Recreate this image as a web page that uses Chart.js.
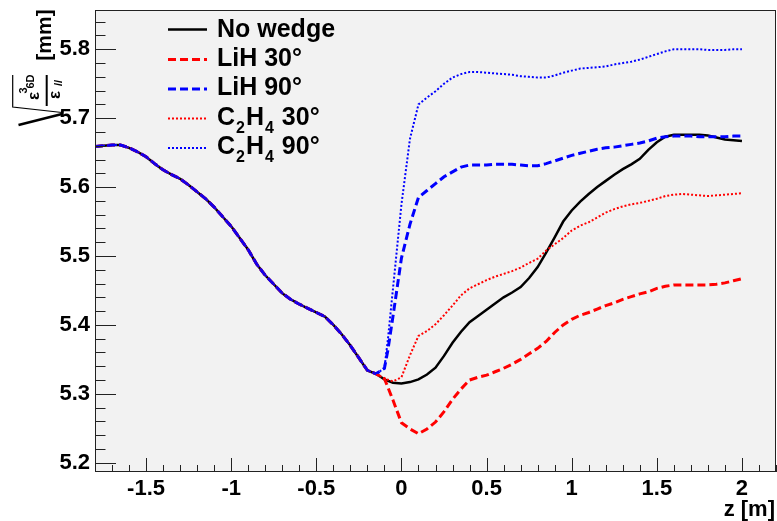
<!DOCTYPE html>
<html><head><meta charset="utf-8">
<script src="https://cdn.jsdelivr.net/npm/chart.js@4/dist/chart.umd.min.js"></script>
<style>html,body{margin:0;padding:0;background:#fff;overflow:hidden;}</style>
</head><body>
<canvas id="c" width="777" height="521"></canvas>
<script>
// ---------- data ----------
const xTicks = [-1.5, -1, -0.5, 0, 0.5, 1, 1.5, 2];
const yTicks = [5.2, 5.3, 5.4, 5.5, 5.6, 5.7, 5.8];
const seriesLabels = ['No wedge', 'LiH 30°', 'LiH 90°', 'C_{2}H_{4} 30°', 'C_{2}H_{4} 90°'];
const xTitle = 'z [m]';

// shared part upstream of the absorber (all five cases overlap)
const commonZ = [-1.8,-1.75,-1.7,-1.65,-1.6,-1.55,-1.5,-1.45,-1.4,-1.35,-1.3,-1.25,-1.2,-1.15,-1.1,-1.05,-1.0,-0.95,-0.9,-0.85,-0.8,-0.75,-0.7,-0.65,-0.6,-0.55,-0.5,-0.45,-0.4,-0.35,-0.3,-0.25,-0.2,-0.15];
const commonV = [5.659,5.660,5.661,5.661,5.657,5.651,5.644,5.634,5.625,5.618,5.612,5.603,5.593,5.583,5.571,5.557,5.543,5.526,5.509,5.488,5.472,5.459,5.446,5.437,5.430,5.424,5.418,5.412,5.400,5.386,5.370,5.352,5.334,5.329];

const tailZ = [-0.1,-0.05,0,0.05,0.1,0.15,0.2,0.25,0.3,0.35,0.4,0.45,0.5,0.55,0.6,0.65,0.7,0.75,0.8,0.85,0.9,0.95,1.0,1.05,1.1,1.15,1.2,1.25,1.3,1.35,1.4,1.45,1.5,1.55,1.6,1.65,1.7,1.75,1.8,1.85,1.9,1.95,2.0];
const noWedgeV = [5.321,5.316,5.315,5.317,5.321,5.328,5.338,5.355,5.374,5.390,5.404,5.413,5.422,5.431,5.440,5.447,5.455,5.468,5.484,5.505,5.527,5.550,5.566,5.579,5.590,5.600,5.609,5.618,5.626,5.633,5.641,5.654,5.665,5.673,5.676,5.676,5.676,5.676,5.675,5.672,5.669,5.668,5.667];
const lih30V = [5.322,5.291,5.258,5.249,5.242,5.249,5.259,5.274,5.292,5.307,5.320,5.324,5.327,5.332,5.337,5.343,5.350,5.358,5.366,5.376,5.389,5.400,5.408,5.414,5.418,5.423,5.428,5.432,5.437,5.441,5.445,5.448,5.453,5.456,5.458,5.458,5.458,5.458,5.458,5.459,5.461,5.464,5.467];
const c2h4_30V = [5.322,5.318,5.324,5.356,5.384,5.391,5.401,5.414,5.428,5.443,5.453,5.459,5.465,5.470,5.474,5.478,5.483,5.490,5.496,5.508,5.517,5.526,5.537,5.544,5.549,5.556,5.563,5.568,5.572,5.575,5.577,5.580,5.583,5.587,5.589,5.590,5.589,5.588,5.587,5.588,5.589,5.590,5.591];

const blueZ = [-0.1,-0.08,-0.05,0,0.05,0.1,0.15,0.2,0.25,0.3,0.35,0.4,0.45,0.5,0.55,0.6,0.65,0.7,0.75,0.8,0.85,0.9,0.95,1.0,1.05,1.1,1.15,1.2,1.25,1.3,1.35,1.4,1.45,1.5,1.55,1.6,1.65,1.7,1.75,1.8,1.85,1.9,1.95,2.0];
const lih90V = [5.337,5.363,5.412,5.497,5.546,5.585,5.595,5.605,5.615,5.622,5.629,5.632,5.632,5.632,5.633,5.633,5.633,5.632,5.631,5.631,5.634,5.638,5.642,5.646,5.649,5.652,5.655,5.657,5.658,5.660,5.662,5.664,5.667,5.671,5.673,5.674,5.674,5.674,5.673,5.673,5.673,5.673,5.674,5.674];
const c2h4_90V = [5.337,5.378,5.452,5.575,5.670,5.720,5.730,5.739,5.750,5.759,5.764,5.767,5.767,5.766,5.765,5.764,5.763,5.761,5.760,5.759,5.759,5.762,5.766,5.769,5.772,5.773,5.774,5.775,5.778,5.780,5.782,5.785,5.789,5.793,5.797,5.800,5.800,5.800,5.800,5.799,5.799,5.799,5.800,5.800];

// ---------- helpers ----------
function pts(zs, vs) { return zs.map((z, i) => ({ x: z, y: vs[i] })); }
function series(tz, tv) { return pts(commonZ.concat(tz), commonV.concat(tv)); }
const FONT = 'Liberation Sans, Arial, Helvetica, sans-serif';

function drawRich(ctx, text, x, y, size) {
  // renders text with ROOT-like _{...} subscripts, baseline at y
  const parts = text.split(/(_\{[^}]*\})/).filter(s => s.length);
  let cx = x;
  ctx.textAlign = 'left';
  ctx.textBaseline = 'alphabetic';
  for (const p of parts) {
    const m = p.match(/^_\{([^}]*)\}$/);
    if (m) {
      ctx.font = 'bold ' + Math.round(size * 0.62) + 'px ' + FONT;
      ctx.fillText(m[1], cx + 1, y + size * 0.32);
      cx += ctx.measureText(m[1]).width + 2;
    } else {
      ctx.font = 'bold ' + size + 'px ' + FONT;
      ctx.fillText(p, cx, y);
      cx += ctx.measureText(p).width;
    }
  }
}
function rotText(ctx, text, cx, cy, font) {
  ctx.save();
  ctx.translate(cx, cy);
  ctx.rotate(-Math.PI / 2);
  ctx.font = font;
  ctx.textAlign = 'center';
  ctx.textBaseline = 'middle';
  ctx.fillText(text, 0, 0);
  ctx.restore();
}
function noPad(s) { s.paddingTop = 0; s.paddingBottom = 0; s.paddingLeft = 0; s.paddingRight = 0; }

const rootStyle = {
  id: 'rootStyle',
  beforeDraw(chart) {
    const { ctx, chartArea: a } = chart;
    ctx.save();
    ctx.fillStyle = '#ffffff';
    ctx.fillRect(0, 0, chart.width, chart.height);
    ctx.fillStyle = '#f2f2f2';
    ctx.fillRect(a.left, a.top, a.right - a.left, a.bottom - a.top);
    ctx.restore();
  },
  afterDatasetsDraw(chart) {
    const { ctx, chartArea: a, scales } = chart;
    const xs = scales.x, ys = scales.y;
    ctx.save();
    // frame
    ctx.strokeStyle = '#222';
    ctx.lineWidth = 1;
    ctx.strokeRect(a.left + 0.5, a.top + 0.5, a.right - a.left - 1, a.bottom - a.top - 1);
    // y ticks (inside, ROOT style)
    ctx.beginPath();
    for (let i = -1; i <= 34; i++) {
      const v = 5.2 + 0.02 * i;
      if (v < ys.min || v > ys.max) continue;
      const py = Math.round(ys.getPixelForValue(v)) + 0.5;
      const len = (i % 5 === 0) ? 21 : 10.5;
      ctx.moveTo(a.left, py); ctx.lineTo(a.left + len, py);
    }
    // x ticks
    for (let i = 0; i <= 40; i++) {
      const v = -1.8 + 0.1 * i;
      if (v < xs.min - 1e-9 || v > xs.max + 1e-9) continue;
      const px = Math.round(xs.getPixelForValue(v)) + 0.5;
      const major = Math.abs(v * 2 - Math.round(v * 2)) < 1e-6;
      const len = major ? 14 : 7;
      ctx.moveTo(px, a.bottom); ctx.lineTo(px, a.bottom - len);
    }
    ctx.stroke();

    // x axis title (right aligned, below tick labels)
    ctx.fillStyle = '#000';
    ctx.font = 'bold 22px ' + FONT;
    ctx.textAlign = 'right';
    ctx.textBaseline = 'alphabetic';
    ctx.fillText(xTitle, a.right - 1, 516);

    // legend
    const ds = chart.data.datasets;
    const lineY = [29.5, 59.5, 89, 118.5, 148];
    const baseY = [36.5, 65.5, 95, 124.5, 153.5];
    ds.forEach((d, i) => {
      ctx.save();
      ctx.strokeStyle = d.borderColor;
      ctx.lineWidth = d.borderWidth;
      ctx.setLineDash(d.borderDash || []);
      ctx.beginPath();
      ctx.moveTo(168, lineY[i]); ctx.lineTo(207, lineY[i]);
      ctx.stroke();
      ctx.restore();
      ctx.fillStyle = '#000';
      drawRich(ctx, d.label, 217, baseY[i], 25);
    });

    // y axis title: sqrt(eps^3_6D / eps_//) [mm], rotated
    ctx.fillStyle = '#000';
    rotText(ctx, '[mm]', 45.5, 35, 'bold 21px ' + FONT);
    rotText(ctx, 'ε', 34, 96, 'bold 17px ' + FONT);
    rotText(ctx, '3', 24, 90.5, 'bold 11px ' + FONT);
    rotText(ctx, '6D', 31, 81.5, 'bold 11px ' + FONT);
    rotText(ctx, 'ε', 55, 95, 'bold 17px ' + FONT);
    rotText(ctx, '//', 59, 83, 'bold 11px ' + FONT);
    ctx.strokeStyle = '#000';
    ctx.lineWidth = 2;
    ctx.beginPath(); ctx.moveTo(46.7, 75); ctx.lineTo(46.7, 106); ctx.stroke();
    ctx.lineWidth = 1.2;
    ctx.beginPath(); ctx.moveTo(12.7, 75); ctx.lineTo(12.7, 107); ctx.lineTo(62, 112.5); ctx.stroke();
    ctx.lineWidth = 2.5;
    ctx.beginPath(); ctx.moveTo(18.5, 125); ctx.lineTo(62, 114); ctx.stroke();
    ctx.restore();
  }
};

const dashed = [8, 4];
const dotted = [2, 2];

new Chart(document.getElementById('c'), {
  type: 'line',
  data: {
    datasets: [
      { label: seriesLabels[0], data: series(tailZ, noWedgeV), borderColor: '#000000', borderWidth: 2.5, order: 5 },
      { label: seriesLabels[1], data: series(tailZ, lih30V), borderColor: '#ff0000', borderWidth: 3, borderDash: dashed, order: 4 },
      { label: seriesLabels[2], data: series(blueZ, lih90V), borderColor: '#0000ff', borderWidth: 3, borderDash: dashed, order: 3 },
      { label: seriesLabels[3], data: series(tailZ, c2h4_30V), borderColor: '#ff0000', borderWidth: 2, borderDash: dotted, order: 2 },
      { label: seriesLabels[4], data: series(blueZ, c2h4_90V), borderColor: '#0000ff', borderWidth: 2, borderDash: dotted, order: 1 }
    ]
  },
  options: {
    responsive: false,
    animation: false,
    events: [],
    layout: { padding: { top: 10, right: 1, left: 0, bottom: 0 } },
    elements: { point: { radius: 0 }, line: { tension: 0, fill: false } },
    plugins: { legend: { display: false }, tooltip: { enabled: false } },
    scales: {
      x: {
        type: 'linear', min: -1.8, max: 2.2,
        afterBuildTicks: s => { s.ticks = xTicks.map(v => ({ value: v })); },
        afterFit: s => { s.height = 49; noPad(s); },
        grid: { display: false, drawTicks: false },
        border: { display: false },
        ticks: { color: '#000', padding: 4, maxRotation: 0, autoSkip: false,
          font: { family: FONT, size: 22, weight: 'bold' },
          callback: v => String(v) },
        title: { display: false }
      },
      y: {
        type: 'linear', min: 5.1865, max: 5.857,
        afterBuildTicks: s => { s.ticks = yTicks.map(v => ({ value: v })); },
        afterFit: s => { s.width = 95; noPad(s); },
        grid: { display: false, drawTicks: false },
        border: { display: false },
        ticks: { color: '#000', padding: 5, autoSkip: false,
          font: { family: FONT, size: 22, weight: 'bold' },
          callback: v => Number(v).toFixed(1) }
      }
    }
  },
  plugins: [rootStyle]
});
</script>
</body></html>
